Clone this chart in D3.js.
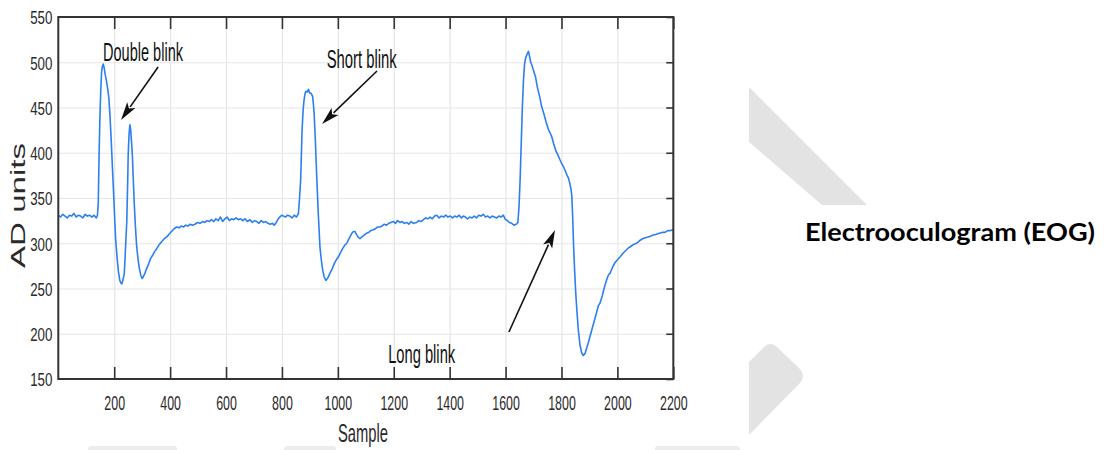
<!DOCTYPE html>
<html>
<head>
<meta charset="utf-8">
<script src="https://cdn.jsdelivr.net/npm/d3@7/dist/d3.min.js"></script>
<style>
  html, body { margin: 0; padding: 0; background: #ffffff; }
  svg { display: block; }
</style>
</head>
<body>
<svg id="chart" width="1104" height="450"></svg>
<script>
// ---------------- data ----------------
const xTickValues = [200, 400, 600, 800, 1000, 1200, 1400, 1600, 1800, 2000, 2200];
const yTickValues = [150, 200, 250, 300, 350, 400, 450, 500, 550];
const xDomain = [0, 2200];
const yDomain = [150, 550];
const xTitle = "Sample";
const yTitle = "AD units";
const sideTitle = "Electrooculogram (EOG)";

// EOG trace: [sample, AD units]
const eogTrace = [
[0,331],[8,329],[16,332],[24,330],[32,328],[40,331],[48,330],[56,333],[64,329],[72,331],[80,330],[88,328],[96,332],[104,330],[112,331],[120,329],[128,331],[136,328],[140,331],
[143,345],[146,400],[149,440],[152,470],[155,490],[158,496],[161,498],[164,494],[167,488],[173,478],[177,470],[181,460],[185,440],[189,416],[193,388],[197,361],[201,332],[205,305],[210,285],[215,269],[220,259],[224,256],[227,255],[230,258],[233,262],[236,266],[239,285],[242,305],[245,324],[248,365],[250,397],[253,420],[256,431],[259,425],[262,412],[265,397],[268,372],[272,342],[276,318],[280,298],[285,283],[290,272],[295,265],[300,261],[304,263],[310,267],[316,272],[323,277],[330,283],[338,287],[345,291],[352,294],[360,298],[370,302],[379,305],[388,307],[396,310],[405,313],[414,316],[424,318],[432,317],[440,319],[448,318],[456,320],[464,319],[472,321],[480,320],[489,321],[498,323],[507,322],[516,324],[524,323],[532,325],[540,324],[548,326],[556,324],[564,327],[572,325],[580,329],[588,324],[596,327],[604,329],[612,325],[620,327],[628,326],[636,328],[644,326],[652,327],[660,325],[668,327],[676,324],[686,326],[694,323],[702,325],[710,324],[718,322],[726,325],[734,323],[742,324],[750,322],[758,321],[766,322],[772,320],[778,322],[785,326],[792,329],[800,331],[806,330],[812,329],[820,331],[828,330],[836,328],[844,331],[852,329],[856,331],
[859,333],[863,350],[867,370],[872,425],[876,448],[879,458],[883,466],[886,468],[890,467],[895,470],[899,466],[903,466],[907,464],[910,462],[913,452],[915,444],[919,418],[924,377],[930,333],[936,296],[941,281],[946,270],[951,263],[957,259],[963,261],[972,267],[980,272],[988,278],[995,282],[1002,285],[1010,290],[1017,294],[1025,298],[1032,300],[1040,305],[1050,311],[1056,313],[1061,313],[1066,310],[1072,307],[1079,305],[1086,307],[1094,309],[1102,311],[1110,312],[1118,314],[1127,315],[1134,316],[1142,318],[1150,318],[1158,319],[1166,321],[1174,320],[1182,322],[1190,323],[1199,324],[1206,322],[1214,325],[1222,323],[1230,324],[1238,322],[1246,323],[1254,321],[1262,324],[1270,322],[1282,323],[1290,325],[1298,324],[1306,326],[1314,328],[1322,327],[1330,329],[1338,327],[1346,330],[1354,331],[1362,328],[1370,330],[1378,329],[1386,331],[1394,329],[1402,330],[1410,328],[1418,330],[1426,329],[1434,331],[1442,328],[1449,330],[1456,329],[1464,327],[1472,329],[1480,328],[1488,330],[1496,328],[1504,331],[1512,330],[1520,332],[1528,329],[1536,330],[1544,328],[1552,330],[1560,329],[1568,328],[1576,330],[1584,329],[1592,331],[1598,327],[1606,325],[1614,323],[1622,322],[1630,320],[1638,321],[1644,323],
[1648,340],[1652,370],[1656,410],[1660,450],[1664,480],[1668,498],[1672,505],[1677,509],[1682,512],[1686,506],[1690,500],[1695,496],[1700,491],[1707,484],[1714,472],[1722,462],[1729,451],[1737,443],[1745,434],[1753,426],[1765,418],[1772,410],[1780,402],[1788,397],[1795,392],[1801,388],[1808,384],[1815,379],[1820,375],[1825,372],[1830,366],[1834,360],[1837,352],[1840,330],[1843,300],[1847,270],[1851,245],[1855,226],[1860,205],[1866,188],[1872,179],[1878,176],[1884,178],[1890,184],[1896,190],[1902,197],[1910,206],[1918,215],[1926,224],[1932,231],[1938,234],[1946,242],[1954,252],[1962,260],[1968,265],[1974,267],[1982,273],[1990,278],[1998,281],[2010,285],[2020,289],[2030,292],[2040,295],[2050,297],[2060,299],[2069,300],[2080,303],[2090,305],[2100,306],[2110,307],[2120,308],[2129,309],[2140,310],[2150,311],[2160,312],[2170,312],[2180,314],[2190,314],[2200,315]
];

// annotations (data coordinates)
const annotationLabels = ["Double blink", "Short blink", "Long blink"];
const annotationTextPos = [[160, 501.4], [960, 493.6], [1180, 167.7]];
const arrowFrom = [[357, 494.8], [1140, 490.3], [1612, 201.9]];
const arrowTo   = [[224.3, 436.2], [943.5, 431.8], [1777, 314.6]];

// ---------------- layout / style ----------------
const plot = { left: 58.3, right: 673.3, top: 17, bottom: 379 };
const annotationWidths = [80, 70, 67];
const lineColor = "#2d7ff0";
const frameColor = "#333333";

const svg = d3.select("#chart");
const x = d3.scaleLinear().domain(xDomain).range([plot.left, plot.right]);
const y = d3.scaleLinear().domain(yDomain).range([plot.bottom, plot.top]);
const H = plot.bottom - plot.top, W = plot.right - plot.left;

// background decorations (slide)
svg.append("polygon")
  .attr("points", "749,87 749,142 822,205 867,205")
  .attr("fill", "#e3e3e3");
svg.append("path")
  .attr("d", "M749,362 L764,347 Q770,341 777,347 L800,369 Q806,376 800,383 L749,435 Z")
  .attr("fill", "#e3e3e3");
[[88,177],[284,336],[655,740]].forEach(([a,b]) => {
  svg.append("rect").attr("x", a).attr("y", 446).attr("width", b - a).attr("height", 8)
    .attr("rx", 3).attr("fill", "#ececec");
});

// gridlines
svg.append("g")
  .attr("transform", `translate(0,${plot.bottom})`)
  .call(d3.axisBottom(x).tickValues(xTickValues).tickSize(-H).tickFormat(""))
  .call(g => g.select(".domain").remove())
  .call(g => g.selectAll("line").attr("stroke", "#e6e6e6").attr("stroke-width", 1.2));
svg.append("g")
  .attr("transform", `translate(${plot.left},0)`)
  .call(d3.axisLeft(y).tickValues(yTickValues).tickSize(-W).tickFormat(""))
  .call(g => g.select(".domain").remove())
  .call(g => g.selectAll("line").attr("stroke", "#e6e6e6").attr("stroke-width", 1.2));

// data line
const line = d3.line().x(d => x(d[0])).y(d => y(d[1]));
svg.append("path")
  .datum(eogTrace)
  .attr("d", line)
  .attr("fill", "none")
  .attr("stroke", lineColor)
  .attr("stroke-width", 1.6)
  .attr("stroke-linejoin", "round");

// axes
const fmt = d3.format("d");
const bottomAxis = svg.append("g")
  .attr("transform", `translate(0,${plot.bottom})`)
  .call(d3.axisBottom(x).tickValues(xTickValues).tickFormat(fmt).tickSizeInner(-12).tickSizeOuter(0))
  .call(g => g.select(".domain").remove())
  .call(g => g.selectAll("line").attr("stroke", frameColor).attr("stroke-width", 1.6));
bottomAxis.selectAll("text")
  .attr("y", 31).attr("dy", 0)
  .attr("transform", "scale(0.62,1)")
  .attr("fill", "#2a2a2a")
  .style("font-family", "'Liberation Sans', Arial, sans-serif")
  .style("font-size", "20px");

const leftAxis = svg.append("g")
  .attr("transform", `translate(${plot.left},0)`)
  .call(d3.axisLeft(y).tickValues(yTickValues).tickFormat(fmt).tickSize(0).tickPadding(0))
  .call(g => g.select(".domain").remove());
leftAxis.selectAll("text")
  .attr("x", -6 / 0.7).attr("dy", "0.36em")
  .attr("transform", "scale(0.7,1)")
  .attr("fill", "#2a2a2a")
  .style("font-family", "'Liberation Sans', Arial, sans-serif")
  .style("font-size", "19px");

svg.append("g")
  .attr("transform", `translate(0,${plot.top})`)
  .call(d3.axisTop(x).tickValues(xTickValues).tickSizeInner(-12).tickSizeOuter(0).tickFormat(""))
  .call(g => g.select(".domain").remove())
  .call(g => g.selectAll("line").attr("stroke", frameColor).attr("stroke-width", 1.6));
svg.append("g")
  .attr("transform", `translate(${plot.right},0)`)
  .call(d3.axisRight(y).tickValues(yTickValues).tickSizeInner(-7).tickSizeOuter(0).tickFormat(""))
  .call(g => g.select(".domain").remove())
  .call(g => g.selectAll("line").attr("stroke", frameColor).attr("stroke-width", 1.6));

// frame
svg.append("rect")
  .attr("x", plot.left).attr("y", plot.top)
  .attr("width", W).attr("height", H)
  .attr("fill", "none").attr("stroke", frameColor).attr("stroke-width", 2);

// axis titles
svg.append("text")
  .attr("x", 338).attr("y", 442)
  .attr("textLength", 50).attr("lengthAdjust", "spacingAndGlyphs")
  .attr("fill", "#2a2a2a")
  .style("font-family", "'Liberation Sans', Arial, sans-serif")
  .style("font-size", "25px")
  .text(xTitle);
svg.append("text")
  .attr("transform", "translate(25,268) rotate(-90)")
  .attr("textLength", 125).attr("lengthAdjust", "spacingAndGlyphs")
  .attr("fill", "#2a2a2a")
  .style("font-family", "'Liberation Sans', Arial, sans-serif")
  .style("font-size", "21px")
  .text(yTitle);

// annotations
annotationLabels.forEach((label, i) => {
  svg.append("text")
    .attr("x", x(annotationTextPos[i][0]))
    .attr("y", y(annotationTextPos[i][1]))
    .attr("textLength", annotationWidths[i]).attr("lengthAdjust", "spacingAndGlyphs")
    .attr("fill", "#111")
    .style("font-family", "'Liberation Sans', Arial, sans-serif")
    .style("font-size", "26px")
    .text(label);

  const x0 = x(arrowFrom[i][0]), y0 = y(arrowFrom[i][1]);
  const x1 = x(arrowTo[i][0]), y1 = y(arrowTo[i][1]);
  const dx = x1 - x0, dy = y1 - y0, len = Math.hypot(dx, dy);
  const ux = dx / len, uy = dy / len;
  const headL = 18, headW = 5;
  const bx = x1 - ux * headL, by = y1 - uy * headL;
  svg.append("line")
    .attr("x1", x0).attr("y1", y0).attr("x2", bx + ux * 2).attr("y2", by + uy * 2)
    .attr("stroke", "#111").attr("stroke-width", 1.6);
  svg.append("polygon")
    .attr("points", [
      [x1, y1],
      [bx - uy * headW, by + ux * headW],
      [bx + ux * 4, by + uy * 4],
      [bx + uy * headW, by - ux * headW]
    ].map(p => p.join(",")).join(" "))
    .attr("fill", "#111");
});

// side title
svg.append("text")
  .attr("x", 805).attr("y", 241)
  .attr("textLength", 290).attr("lengthAdjust", "spacingAndGlyphs")
  .attr("fill", "#000")
  .style("font-family", "Lato, 'Open Sans', sans-serif")
  .style("font-weight", "bold")
  .style("font-size", "24px")
  .text(sideTitle);
</script>
</body>
</html>
